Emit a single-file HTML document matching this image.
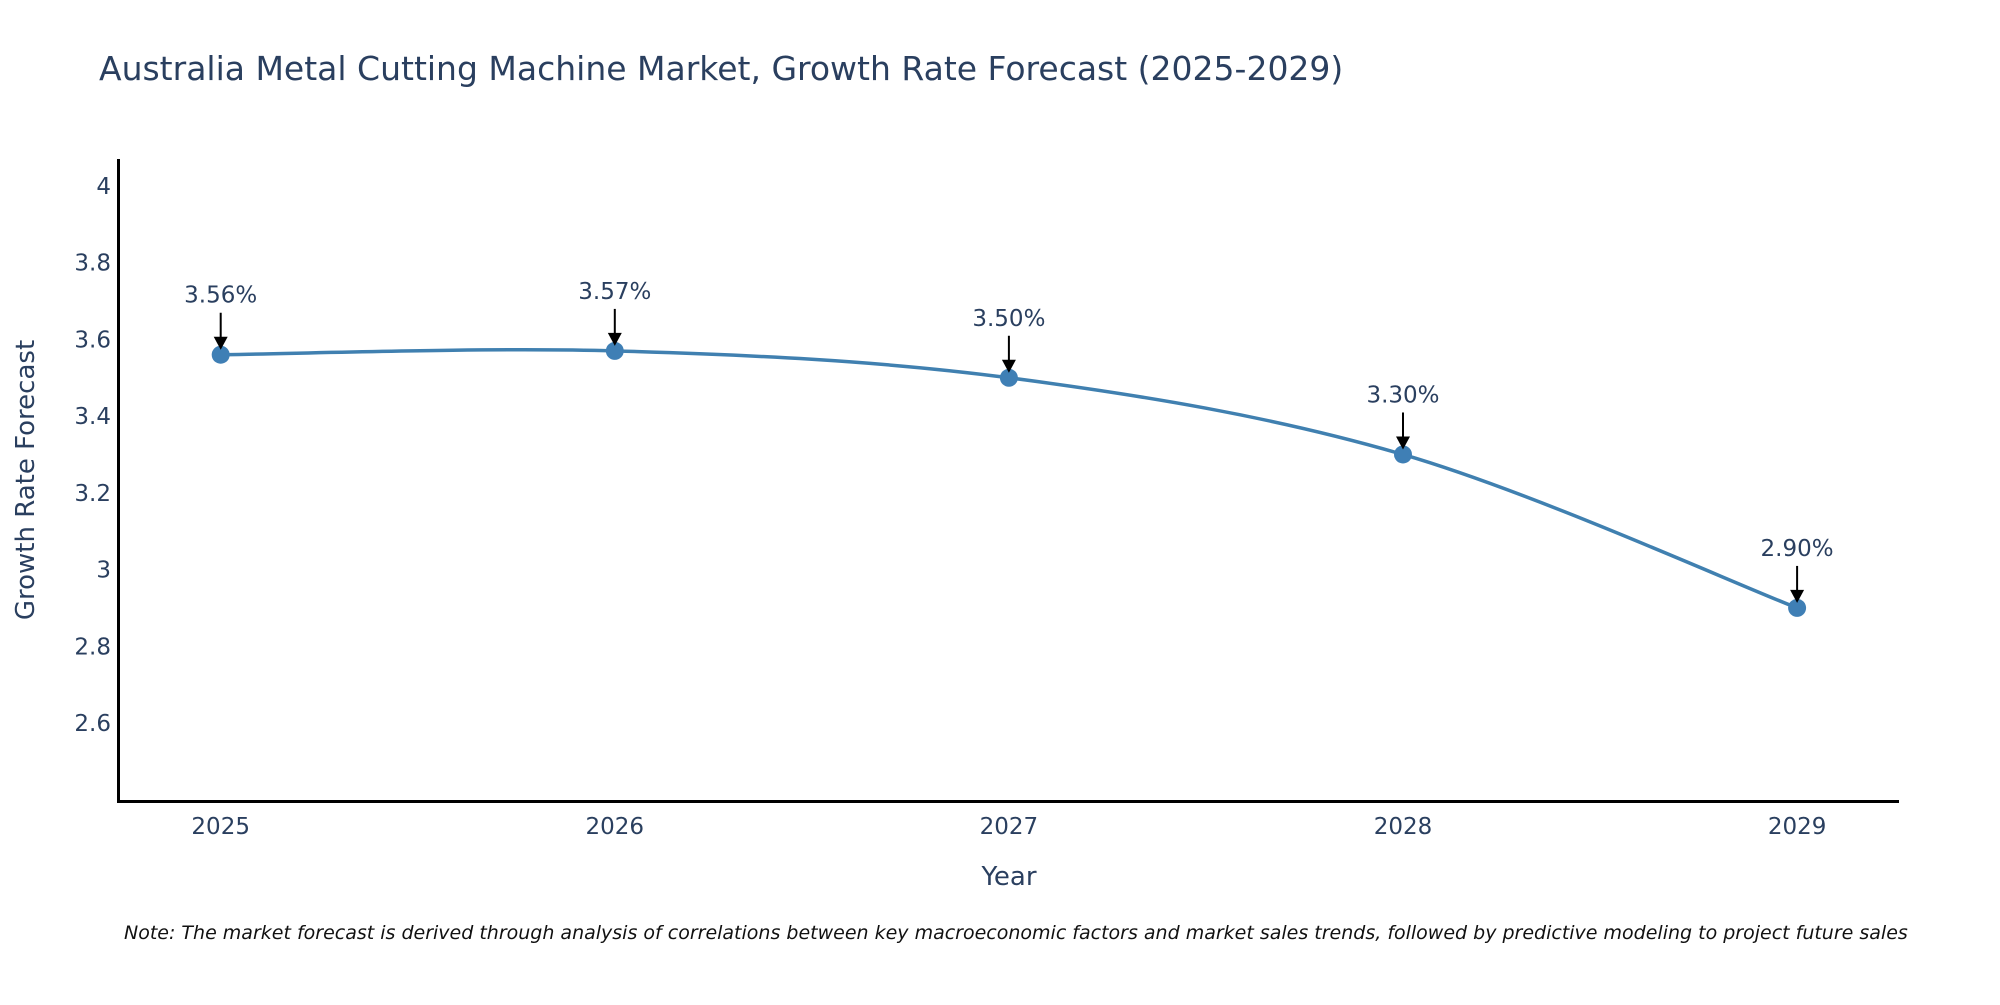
<!DOCTYPE html>
<html><head><meta charset="utf-8"><style>
body{margin:0;background:#fff;}
svg text{font-family:"DejaVu Sans","Liberation Sans",sans-serif;fill:#2a3f5f;}
</style></head><body>
<svg id="chart" width="2000" height="1000">
<text x="99" y="80" font-size="33">Australia Metal Cutting Machine Market, Growth Rate Forecast (2025-2029)</text>
<g id="yticks"></g>
<g id="xticks"></g>
<path id="line" fill="none" stroke="#4080b0" stroke-width="3.5"/>
<g id="marks"></g>
<line x1="118.5" y1="159" x2="118.5" y2="802" stroke="#000" stroke-width="3"/>
<line x1="117" y1="801.5" x2="1899" y2="801.5" stroke="#000" stroke-width="3"/>
<text transform="translate(34,480) rotate(-90)" text-anchor="middle" font-size="26">Growth Rate Forecast</text>
<text x="1009" y="885" text-anchor="middle" font-size="26">Year</text>
<text x="124" y="939" font-size="19" font-style="italic" style="fill:#111">Note: The market forecast is derived through analysis of correlations between key macroeconomic factors and market sales trends, followed by predictive modeling to project future sales</text>
</svg>
<script>
const years=[2025,2026,2027,2028,2029];
const values=[3.56,3.57,3.50,3.30,2.90];
const labels=["3.56%","3.57%","3.50%","3.30%","2.90%"];
const yTicks=[2.6,2.8,3,3.2,3.4,3.6,3.8,4];
const yTickLabels=["2.6","2.8","3","3.2","3.4","3.6","3.8","4"];
const NS="http://www.w3.org/2000/svg";
const X=v=>220.7+(v-2025)*394.1;
const Y=v=>723-(v-2.6)*383.6;
function mk(t,a){const e=document.createElementNS(NS,t);for(const k in a)e.setAttribute(k,a[k]);return e;}
const yt=document.getElementById('yticks');
yTicks.forEach((t,i)=>{const e=mk('text',{x:111,y:Y(t)+8,'text-anchor':'end','font-size':23});


e.textContent=yTickLabels[i];yt.appendChild(e);});
const xt=document.getElementById('xticks');
years.forEach(y=>{const e=mk('text',{x:X(y),y:834,'text-anchor':'middle','font-size':23});


e.textContent=y;xt.appendChild(e);});
const P=years.map((y,i)=>[X(y),Y(values[i])]);
let d=`M${P[0][0]},${P[0][1]}`;
for(let i=0;i<P.length-1;i++){const p0=P[i-1]||P[i],p1=P[i],p2=P[i+1],p3=P[i+2]||P[i+1];const s=0.5/3*2;
const c1=[p1[0]+(p2[0]-p0[0])*s/2,p1[1]+(p2[1]-p0[1])*s/2],c2=[p2[0]-(p3[0]-p1[0])*s/2,p2[1]-(p3[1]-p1[1])*s/2];
d+=` C${c1[0]},${c1[1]} ${c2[0]},${c2[1]} ${p2[0]},${p2[1]}`;}
document.getElementById('line').setAttribute('d',d);
const g=document.getElementById('marks');
P.forEach((p,i)=>{const c=mk('circle',{cx:p[0],cy:p[1],r:9,fill:'#3f7fb5'});


g.appendChild(c);
const l=mk('line',{x1:p[0],y1:p[1]-42,x2:p[0],y2:p[1]-16,stroke:'#000','stroke-width':2});


g.appendChild(l);
const a=mk('path',{d:`M${p[0]-7},${p[1]-18} L${p[0]+7},${p[1]-18} L${p[0]},${p[1]-5} Z`,fill:'#000'});


g.appendChild(a);
const t=mk('text',{x:p[0],y:p[1]-52,'text-anchor':'middle','font-size':23});


t.textContent=labels[i];g.appendChild(t);});
</script>
</body></html>
